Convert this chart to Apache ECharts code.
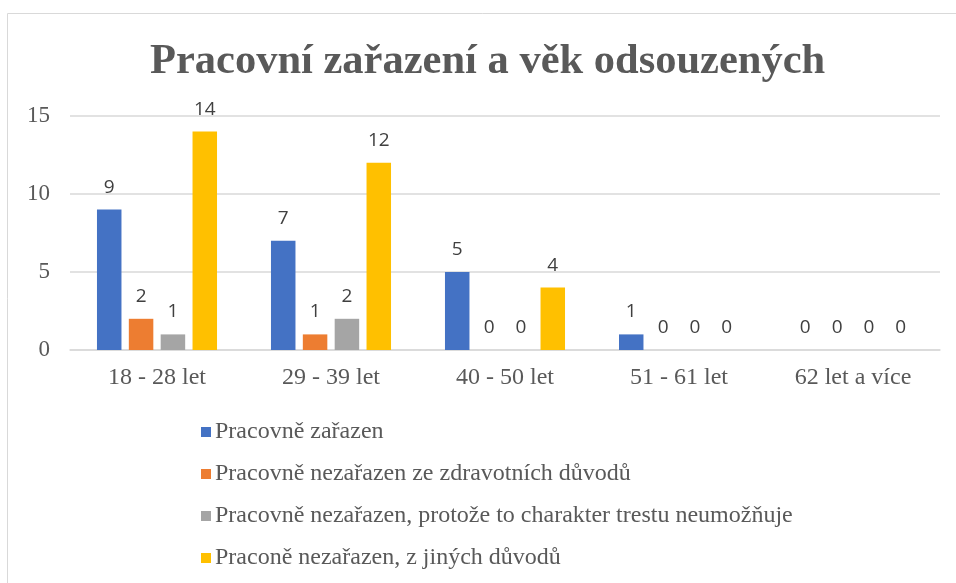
<!DOCTYPE html>
<html><head><meta charset="utf-8">
<script src="https://cdn.jsdelivr.net/npm/echarts@6/dist/echarts.min.js"></script>
<style>html,body{margin:0;padding:0;background:#fff}#c{width:956px;height:583px}</style>
</head><body><div id="c"></div>
<script>
const categories = ['18 - 28 let', '29 - 39 let', '40 - 50 let', '51 - 61 let', '62 let a více'];
const seriesNames = ['Pracovně zařazen', 'Pracovně nezařazen ze zdravotních důvodů', 'Pracovně nezařazen, protože to charakter trestu neumožňuje', 'Praconě nezařazen, z jiných důvodů'];
const zarazen = [9, 7, 5, 1, 0];
const zdravotni = [2, 1, 0, 0, 0];
const charakter = [1, 2, 0, 0, 0];
const jine = [14, 12, 4, 0, 0];
const colors = ['#4472C4', '#ED7D31', '#A5A5A5', '#FFC000'];
const serif = '"Liberation Serif", "Times New Roman", serif';
const chart = echarts.init(document.getElementById('c'));
const values = [zarazen, zdravotni, charakter, jine];
chart.setOption({
  animation: false,
  title: { text: 'Pracovní zařazení a věk odsouzených', left: 145, top: 36,
    textStyle: { fontFamily: serif, fontWeight: 'bold', fontSize: 42.5, color: '#595959' } },
  graphic: [{ type: 'rect', shape: { x: 7.5, y: 13.5, width: 960, height: 600 }, style: { fill: 'none', stroke: '#d9d9d9', lineWidth: 1 }, silent: true }],
  legend: { orient: 'vertical', left: 196, top: 415, itemGap: 18, itemWidth: 10, itemHeight: 10, icon: 'rect',
    textStyle: { fontFamily: serif, fontSize: 24, color: '#595959', padding: [0, 0, 0, -1] } },
  grid: { left: 70, right: 16, top: 116, bottom: 233, containLabel: false },
  xAxis: { type: 'category', data: categories, axisTick: { show: false },
    axisLine: { lineStyle: { color: '#d9d9d9', width: 1.5 } },
    axisLabel: { fontFamily: serif, fontSize: 24, color: '#595959', margin: 16 } },
  yAxis: { type: 'value', min: 0, max: 15, interval: 5,
    axisLabel: { fontFamily: serif, fontSize: 23, color: '#595959', margin: 20 },
    splitLine: { lineStyle: { color: '#d9d9d9', width: 1.5 } } },
  series: seriesNames.map((n, i) => ({
    name: n, type: 'bar', data: values[i], barGap: '30%', barCategoryGap: '31%',
    itemStyle: { color: colors[i] },
    label: { show: true, position: 'top', distance: 13, fontFamily: '"Open Sans", "Noto Sans", sans-serif', fontSize: 19, color: '#404040' }
  }))
});
</script></body></html>
